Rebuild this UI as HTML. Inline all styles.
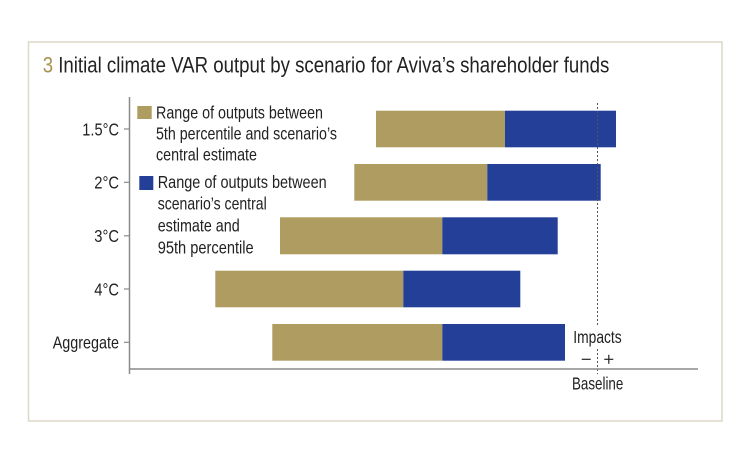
<!DOCTYPE html>
<html>
<head>
<meta charset="utf-8">
<style>
  html, body { margin: 0; padding: 0; background: #ffffff; }
  body { width: 750px; height: 463px; overflow: hidden; }
  svg { display: block; }
  text { font-family: "Liberation Sans", "DejaVu Sans", sans-serif; fill: #222222; }
</style>
</head>
<body>
<svg width="750" height="463" viewBox="0 0 750 463" xmlns="http://www.w3.org/2000/svg">
  <rect x="0" y="0" width="750" height="463" fill="#ffffff"/>
  <!-- frame -->
  <rect x="28.5" y="42" width="693.5" height="379" fill="none" stroke="#dcd9c4" stroke-width="1.5"/>

  <!-- title -->
  <text x="42.7" y="72.5" font-size="22.5" textLength="566.6" lengthAdjust="spacingAndGlyphs"><tspan fill="#a8924f">3</tspan> Initial climate VAR output by scenario for Aviva’s shareholder funds</text>

  <!-- bars -->
  <rect x="376" y="110.7" width="129" height="36.6" fill="#af9c61"/>
  <rect x="505" y="110.7" width="111" height="36.6" fill="#233f98"/>

  <rect x="354.3" y="164" width="133" height="36.7" fill="#af9c61"/>
  <rect x="487.3" y="164" width="113.4" height="36.7" fill="#233f98"/>

  <rect x="280" y="217.3" width="162.3" height="37" fill="#af9c61"/>
  <rect x="442.3" y="217.3" width="115.4" height="37" fill="#233f98"/>

  <rect x="215.3" y="270.7" width="188" height="36.6" fill="#af9c61"/>
  <rect x="403.3" y="270.7" width="117" height="36.6" fill="#233f98"/>

  <rect x="272.3" y="324" width="170" height="36.7" fill="#af9c61"/>
  <rect x="442.3" y="324" width="122.7" height="36.7" fill="#233f98"/>

  <!-- dashed baseline line -->
  <line x1="597.5" y1="103" x2="597.5" y2="327" stroke="#555" stroke-width="1" stroke-dasharray="2,2"/>
  <line x1="597.5" y1="349" x2="597.5" y2="374" stroke="#555" stroke-width="1" stroke-dasharray="2,2"/>

  <!-- axes -->
  <line x1="129.5" y1="97" x2="129.5" y2="374" stroke="#8a8a8a" stroke-width="1.5"/>
  <line x1="129" y1="369" x2="698" y2="369" stroke="#8a8a8a" stroke-width="1.5"/>

  <!-- ticks -->
  <g stroke="#8a8a8a" stroke-width="1.2">
    <line x1="124" y1="129" x2="129.5" y2="129"/>
    <line x1="124" y1="182.3" x2="129.5" y2="182.3"/>
    <line x1="124" y1="235.8" x2="129.5" y2="235.8"/>
    <line x1="124" y1="289" x2="129.5" y2="289"/>
    <line x1="124" y1="342.3" x2="129.5" y2="342.3"/>
  </g>

  <!-- tick labels -->
  <g font-size="17.5" text-anchor="end">
    <text x="119" y="135.3" textLength="36.7" lengthAdjust="spacingAndGlyphs">1.5°C</text>
    <text x="119" y="188.7" textLength="24.7" lengthAdjust="spacingAndGlyphs">2°C</text>
    <text x="119" y="242.2" textLength="24.7" lengthAdjust="spacingAndGlyphs">3°C</text>
    <text x="119" y="295.5" textLength="24.7" lengthAdjust="spacingAndGlyphs">4°C</text>
    <text x="119" y="348.5" textLength="66.3" lengthAdjust="spacingAndGlyphs">Aggregate</text>
  </g>

  <!-- legend -->
  <rect x="137.3" y="106" width="14.4" height="13" fill="#af9c61"/>
  <g font-size="17.5">
    <text x="156" y="118.3" textLength="167" lengthAdjust="spacingAndGlyphs">Range of outputs between</text>
    <text x="156" y="139.5" textLength="181" lengthAdjust="spacingAndGlyphs">5th percentile and scenario’s</text>
    <text x="156" y="160.3" textLength="101" lengthAdjust="spacingAndGlyphs">central estimate</text>
  </g>
  <rect x="139.3" y="176" width="14" height="14" fill="#233f98"/>
  <g font-size="17.5">
    <text x="157.7" y="188" textLength="169" lengthAdjust="spacingAndGlyphs">Range of outputs between</text>
    <text x="157.7" y="209.7" textLength="109" lengthAdjust="spacingAndGlyphs">scenario’s central</text>
    <text x="157.7" y="231.7" textLength="82" lengthAdjust="spacingAndGlyphs">estimate and</text>
    <text x="157.7" y="253.3" textLength="96" lengthAdjust="spacingAndGlyphs">95th percentile</text>
  </g>

  <!-- impacts / baseline labels -->
  <text x="573.3" y="342.9" font-size="17.5" textLength="48.4" lengthAdjust="spacingAndGlyphs">Impacts</text>
  <line x1="581.7" y1="359.3" x2="590.7" y2="359.3" stroke="#222" stroke-width="1.2"/>
  <line x1="604.3" y1="359.3" x2="613.3" y2="359.3" stroke="#222" stroke-width="1.2"/>
  <line x1="608.8" y1="354.8" x2="608.8" y2="363.8" stroke="#222" stroke-width="1.2"/>
  <text x="572" y="389.5" font-size="17.5" textLength="51.3" lengthAdjust="spacingAndGlyphs">Baseline</text>
</svg>
</body>
</html>
